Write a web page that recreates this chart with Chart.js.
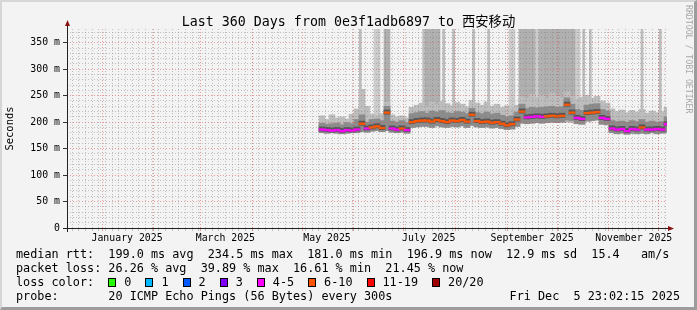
<!DOCTYPE html>
<html>
<head>
<meta charset="utf-8">
<script src="https://cdn.jsdelivr.net/npm/chart.js@4.4.1/dist/chart.umd.min.js"></script>
<style>
  html, body { margin: 0; padding: 0; background: #f3f3f3; }
  #wrap { position: relative; width: 697px; height: 310px; overflow: hidden; font-family: 'DejaVu Sans Mono', monospace; color: #000; }
  #chart { position: absolute; left: 0; top: 0; }
  #frame { position: absolute; left: 0; top: 0; width: 697px; height: 310px; box-sizing: border-box; pointer-events: none;
           border-top: 2px solid #d6d6d6; border-left: 2px solid #d6d6d6; border-right: 3px solid #9c9c9c; border-bottom: 3px solid #9c9c9c; }
  #title { position: absolute; left: 0; top: 14px; width: 697px; text-align: center; font-size: 13.3px; line-height: 16px; white-space: pre;
           font-family: 'DejaVu Sans Mono', 'Noto Sans CJK SC', monospace; }
  #mark { position: absolute; left: 684px; top: 5px; writing-mode: vertical-rl; font-size: 8.2px; line-height: 9px; color: #a8a8a8; white-space: pre; }
  .row { position: absolute; left: 16px; font-size: 11.8px; line-height: 14px; white-space: pre; }
  .sw { display: inline-block; box-sizing: border-box; width: 8px; height: 9px; border: 1px solid #000; margin-right: 8px; vertical-align: -1px; }
  .it { margin-right: 14px; }
</style>
</head>
<body>
<div id="wrap">
  <canvas id="chart" width="697" height="310"></canvas>
  <div id="title">Last 360 Days from 0e3f1adb6897 to 西安移动</div>
  <div id="mark">RRDTOOL / TOBI OETIKER</div>
  <div class="row" style="top:247px">median rtt:  199.0 ms avg  234.5 ms max  181.0 ms min  196.9 ms now  12.9 ms sd  15.4   am/s</div>
  <div class="row" style="top:261px">packet loss: 26.26 % avg  39.89 % max  16.61 % min  21.45 % now</div>
  <div class="row" id="lossrow" style="top:275px">loss color:  </div>
  <div class="row" style="top:289px">probe:       20 ICMP Echo Pings (56 Bytes) every 300s</div>
  <div class="row" style="top:289px; left:auto; right:17px">Fri Dec  5 23:02:15 2025</div>
  <div id="frame"></div>
</div>
<script>
// time span: 360 days ending at the graph timestamp
const endTime = Date.UTC(2025, 11, 5, 23, 2, 15)
const spanDays = 360
const startTime = endTime - spanDays * 864e5
const dayOf = t => (t - startTime) / 864e5
const yTop = 376

// sample days (days since start of the graph)
const days = [
  153, 156, 159, 162, 165, 168, 171, 174, 177, 180,
  183, 186, 189, 192, 195, 198, 201, 204, 207, 210,
  213, 216, 219, 222, 225, 228, 231, 234, 237, 240,
  243, 246, 249, 252, 255, 258, 261, 264, 267, 270,
  273, 276, 279, 282, 285, 288, 291, 294, 297, 300,
  303, 306, 309, 312, 315, 318, 321, 324, 327, 330,
  333, 336, 339, 342, 345, 348, 351, 354, 357, 360
]
// median rtt (ms)
const median = [
  186, 185, 184, 185, 183, 185, 184, 186, 197, 188,
  190, 192, 189, 218, 188, 186, 188, 185, 200, 202,
  203, 203, 201, 204, 202, 200, 203, 202, 204, 201,
  214, 202, 200, 201, 199, 200, 197, 194, 196, 205,
  220, 209, 210, 211, 210, 211, 212, 211, 212, 233,
  218, 208, 206, 217, 218, 219, 208, 206, 188, 186,
  187, 183, 187, 186, 190, 186, 186, 187, 186, 196
]
// lost pings out of 20
const loss = [
  5, 5, 5, 5, 5, 5, 5, 5, 7, 5,
  7, 7, 7, 7, 5, 5, 7, 5, 7, 7,
  7, 7, 7, 7, 7, 7, 7, 7, 7, 7,
  7, 7, 7, 7, 7, 7, 7, 7, 7, 7,
  7, 5, 5, 5, 5, 7, 7, 7, 7, 7,
  7, 5, 5, 7, 7, 7, 5, 5, 5, 5,
  5, 5, 5, 5, 7, 5, 5, 5, 5, 5
]
// smoke: lowest ping, upper edge of dense smoke, upper edge of light smoke (ms)
const smokeLo = [
  180, 179, 180, 179, 178, 179, 180, 180, 182, 181,
  183, 184, 182, 184, 181, 180, 181, 179, 190, 191,
  192, 192, 190, 193, 191, 190, 192, 191, 193, 190,
  194, 191, 190, 191, 189, 190, 188, 186, 187, 192,
  198, 197, 198, 199, 198, 199, 200, 199, 200, 204,
  203, 197, 196, 202, 203, 204, 196, 195, 180, 178,
  179, 177, 179, 178, 179, 178, 180, 178, 179, 180
]
const smokeMid = [
  198, 196, 197, 198, 195, 199, 197, 205, 214, 200,
  205, 206, 203, 230, 202, 200, 203, 199, 216, 218,
  220, 217, 221, 219, 222, 218, 217, 220, 219, 216,
  226, 218, 216, 219, 215, 217, 213, 210, 212, 219,
  234, 226, 228, 227, 228, 229, 230, 228, 229, 246,
  234, 224, 222, 232, 234, 235, 224, 221, 203, 201,
  202, 200, 203, 201, 205, 200, 202, 200, 201, 210
]
const smokeHi = [
  212, 205, 214, 208, 210, 206, 215, 225, 262, 230,
  215, 213, 216, 238, 214, 210, 212, 208, 228, 232,
  236, 230, 238, 233, 240, 235, 231, 237, 234, 229,
  241, 236, 232, 238, 230, 234, 228, 231, 226, 232,
  248, 245, 252, 246, 250, 244, 255, 249, 246, 258,
  250, 243, 247, 251, 245, 249, 240, 236, 225, 220,
  223, 218, 222, 219, 224, 217, 221, 218, 220, 228
]
// days where some pings went off the top of the graph
const spikeDays = [192, 216, 219, 222, 273, 276, 279, 285, 288, 291, 294, 297, 300, 303]
const spikeLightDays = [186, 267, 282, 306]
const spikeThinDays = [176, 214, 226, 232, 244, 253, 310, 314, 345, 356]

const lossLegend = [
  ['0', '#26ff00'], ['1', '#00b8ff'], ['2', '#0059ff'], ['3', '#7e00ff'],
  ['4-5', '#ff00ff'], ['6-10', '#ff5500'], ['11-19', '#ff0000'], ['20/20', '#a10000']
]
function lossColor(n) {
  if (n == 0) return '#26ff00'
  if (n == 1) return '#00b8ff'
  if (n == 2) return '#0059ff'
  if (n == 3) return '#7e00ff'
  if (n <= 5) return '#ff00ff'
  if (n <= 10) return '#ff5500'
  if (n <= 19) return '#ff0000'
  return '#a10000'
}

// x axis labels (centered half a month after the month start, like rrdtool)
const xLabelText = ['January 2025', 'March 2025', 'May 2025', 'July 2025', 'September 2025', 'November 2025']
const xLabelMonths = [0, 2, 4, 6, 8, 10]

const lossRow = document.getElementById('lossrow')
lossLegend.forEach(([txt, col]) => {
  lossRow.innerHTML += `<span class="sw" style="background:${col}"></span><span class="it">${txt}</span>`
})

// x grid: minor every 4 days, major at each month, labels separately
const xTickList = []
for (let t = Date.UTC(2024, 11, 10) + 4 * 864e5; dayOf(t) < spanDays; t += 4 * 864e5) {
  xTickList.push({ value: dayOf(t), kind: 'minor', label: '' })
}
for (let m = 0; m < 12; m++) {
  xTickList.push({ value: dayOf(Date.UTC(2025, m, 1)), kind: 'major', label: '' })
}
xLabelMonths.forEach((m, i) => {
  xTickList.push({ value: dayOf(Date.UTC(2025, m, 1)) + 15, kind: 'label', label: xLabelText[i] })
})
xTickList.sort((a, b) => a.value - b.value)

const yTickList = []
for (let v = 0; v < yTop; v += 10) yTickList.push(v)

const minorCol = 'rgba(120,120,120,0.42)'
const majorCol = 'rgba(225,70,70,0.5)'
const font = { family: "'DejaVu Sans Mono', monospace", size: 9.85 }

const bar = (label, data, color, thick) => ({
  label, data, backgroundColor: color, borderWidth: 0, barThickness: thick,
  stack: 'smoke', grouped: true
})

const axisLines = {
  id: 'axisLines',
  afterDraw(chart) {
    const { ctx, chartArea: a } = chart
    ctx.save()
    ctx.strokeStyle = '#222'
    ctx.lineWidth = 1
    ctx.beginPath()
    ctx.moveTo(a.left - 4, a.bottom + 0.5)
    ctx.lineTo(a.right + 2, a.bottom + 0.5)
    ctx.moveTo(a.left + 0.5, a.bottom + 4)
    ctx.lineTo(a.left + 0.5, a.top - 3)
    ctx.stroke()
    ctx.fillStyle = '#8b1010'
    ctx.beginPath()
    ctx.moveTo(a.right + 1, a.bottom - 2)
    ctx.lineTo(a.right + 7, a.bottom + 0.5)
    ctx.lineTo(a.right + 1, a.bottom + 3)
    ctx.fill()
    ctx.beginPath()
    ctx.moveTo(a.left - 2, a.top - 3)
    ctx.lineTo(a.left + 0.5, a.top - 9)
    ctx.lineTo(a.left + 3, a.top - 3)
    ctx.fill()
    ctx.restore()
  }
}

new Chart(document.getElementById('chart'), {
  type: 'bar',
  data: {
    datasets: [
      bar('median', days.map((d, i) => ({ x: d, y: [median[i] - 1.6, median[i] + 1.6] })), loss.map(lossColor), 6),
      bar('core', days.map((d, i) => ({ x: d, y: [median[i] - 3, median[i] + 5] })), '#555555', 6),
      bar('smoke', days.map((d, i) => ({ x: d, y: [smokeLo[i], smokeMid[i]] })), '#8c8c8c', 6),
      bar('smoke light', days.map((d, i) => ({ x: d, y: [smokeLo[i], smokeHi[i]] })), '#bdbdbd', 6),
      bar('spikes thin', spikeThinDays.map(d => ({ x: d, y: [200, yTop] })), '#bcbcbc', 2),
      bar('spikes', spikeDays.map(d => ({ x: d, y: [200, yTop] })), '#b0b0b0', 6),
      bar('spikes light', spikeLightDays.map(d => ({ x: d, y: [200, yTop] })), '#cccccc', 6)
    ]
  },
  options: {
    responsive: false,
    animation: false,
    devicePixelRatio: 1,
    layout: { padding: { top: 29, right: 30, bottom: 66, left: 0 } },
    plugins: { legend: { display: false }, tooltip: { enabled: false }, title: { display: false } },
    scales: {
      x: {
        type: 'linear', min: 0, max: spanDays, offset: false,
        afterBuildTicks: ax => { ax.ticks = xTickList.map(t => ({ value: t.value })) },
        afterFit: ax => { ax.height = 16 },
        ticks: {
          autoSkip: false, maxRotation: 0, padding: 2, color: '#000', font,
          callback: (v, i) => xTickList[i].label
        },
        grid: {
          offset: false, z: 1, tickLength: 3,
          color: c => xTickList[c.index].kind == 'major' ? majorCol : xTickList[c.index].kind == 'minor' ? minorCol : 'rgba(0,0,0,0)',
          tickColor: c => xTickList[c.index].kind == 'major' ? majorCol : xTickList[c.index].kind == 'minor' ? minorCol : 'rgba(0,0,0,0)'
        },
        border: { display: false, dash: [1, 2] }
      },
      y: {
        min: 0, max: yTop, stacked: false,
        afterBuildTicks: ax => { ax.ticks = yTickList.map(v => ({ value: v })) },
        afterFit: ax => { ax.width = 67 },
        ticks: {
          autoSkip: false, padding: 3, color: '#000', font,
          callback: v => v % 50 == 0 ? (v == 0 ? '0' : v + ' m') : ''
        },
        grid: {
          z: 1, tickLength: 4,
          color: c => c.tick.value % 50 == 0 ? majorCol : minorCol,
          tickColor: c => c.tick.value % 50 == 0 ? '#333' : 'rgba(0,0,0,0)'
        },
        border: { display: false, dash: [1, 2] },
        title: {
          display: true, text: 'Seconds', color: '#000',
          font: { family: "'DejaVu Sans Mono', monospace", size: 10.4 },
          padding: { top: 4, bottom: 0 }
        }
      }
    }
  },
  plugins: [axisLines]
})
</script>
</body>
</html>
